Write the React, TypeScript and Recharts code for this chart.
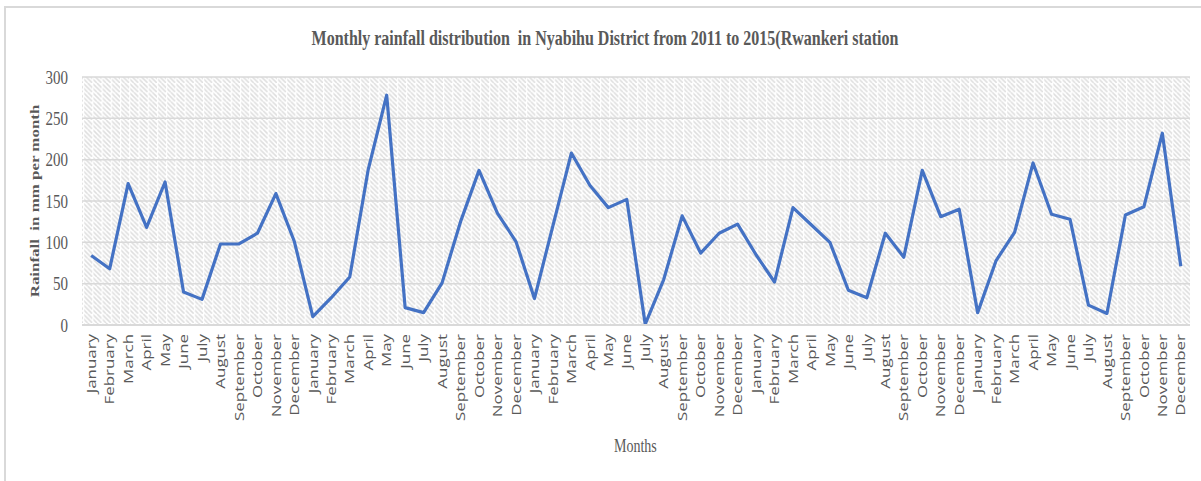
import { LineChart, Line, XAxis, YAxis, CartesianGrid } from 'recharts';

const MONTHS = [
  'January', 'February', 'March', 'April', 'May', 'June',
  'July', 'August', 'September', 'October', 'November', 'December',
];

// monthly rainfall (mm), Rwankeri station
const RAIN_2011 = [84, 68, 171, 118, 173, 40, 31, 98, 98, 111, 159, 101];
const RAIN_2012 = [10, 33, 58, 188, 278, 21, 15, 51, 125, 187, 135, 101];
const RAIN_2013 = [32, 120, 208, 169, 142, 152, 1, 55, 132, 87, 111, 122];
const RAIN_2014 = [85, 52, 142, 121, 100, 42, 33, 111, 82, 187, 131, 140];
const RAIN_2015 = [15, 78, 112, 196, 134, 128, 24, 14, 133, 143, 232, 71];

const Y_TICKS = [0, 50, 100, 150, 200, 250, 300];

const YEARS = [RAIN_2011, RAIN_2012, RAIN_2013, RAIN_2014, RAIN_2015];

const data = YEARS.flatMap((year, y) =>
  year.map((rain, m) => ({ idx: y * 12 + m, month: MONTHS[m], rain }))
);

const GREY = '#595959';
const STRETCH = 1.3;

function MonthTick({ x, y, payload }: { x?: number; y?: number; payload?: { value: number } }) {
  const label = MONTHS[(payload?.value ?? 0) % 12];
  return (
    <text
      transform={`translate(${x},${y}) scale(1,${STRETCH}) rotate(-90)`}
      textAnchor="end"
      dy="0.36em"
      fill={GREY}
      style={{ fontFamily: "'Open Sans', sans-serif", fontSize: 13 }}
    >
      {label}
    </text>
  );
}

function RainTick({ x, y, payload }: { x?: number; y?: number; payload?: { value: number } }) {
  return (
    <text
      transform={`translate(${x},${y}) scale(1,${STRETCH})`}
      textAnchor="end"
      dy="0.35em"
      fill={GREY}
      style={{ fontFamily: "'Liberation Serif', serif", fontSize: 15 }}
    >
      {payload?.value}
    </text>
  );
}

export default function App() {
  return (
    <div style={{ position: 'absolute', left: 0, top: 0, width: 1201, height: 481, background: '#fff', overflow: 'hidden' }}>
      <div
        style={{
          position: 'absolute', left: 4, top: 6, width: 1240, height: 520,
          borderLeft: '2px solid #d9d9d9', borderTop: '2px solid #d9d9d9',
        }}
      />
      <LineChart
        width={1201}
        height={481}
        data={data}
        margin={{ top: 77, right: 11, bottom: 0, left: 0 }}
        style={{ position: 'absolute', left: 0, top: 0 }}
      >
        <defs>
          <pattern id="hatch" patternUnits="userSpaceOnUse" width={9.23} height={9.23}>
            <rect width={9.23} height={9.23} fill="#ffffff" />
            <path
              d="M-9.23,0 L0,9.23 M-4.615,0 L4.615,9.23 M0,0 L9.23,9.23 M4.615,0 L13.845,9.23"
              stroke="#dedede"
              strokeWidth={1.5}
            />
            <line x1={0.6} y1={0} x2={0.6} y2={9.23} stroke="#ffffff" strokeWidth={1.2} />
          </pattern>
        </defs>
        <CartesianGrid
          vertical={false}
          fill="url(#hatch)"
          stroke="#d9d9d9"
          strokeWidth={1.5}
          fillOpacity={1}
        />
        <XAxis
          dataKey="idx"
          type="category"
          interval={0}
          height={156}
          padding={{ left: 9.2, right: 9.2 }}
          tickLine={false}
          tickSize={0}
          tickMargin={9}
          axisLine={{ stroke: '#d9d9d9', strokeWidth: 2 }}
          tick={<MonthTick />}
        />
        <YAxis
          width={82}
          domain={[0, 300]}
          ticks={Y_TICKS}
          interval={0}
          axisLine={false}
          tickLine={false}
          tickSize={0}
          tickMargin={14}
          tick={<RainTick />}
        />
        <Line
          type="linear"
          dataKey="rain"
          stroke="#4472C4"
          strokeWidth={3.2}
          strokeLinejoin="round"
          dot={false}
          activeDot={false}
          isAnimationActive={false}
        />
      </LineChart>
      <div
        style={{
          position: 'absolute', left: 0, width: 1201, top: 28, textAlign: 'center', paddingLeft: 9,
          boxSizing: 'border-box',
          fontFamily: "'Liberation Serif', serif", fontWeight: 'bold', fontSize: 16, color: GREY,
          whiteSpace: 'pre', transform: `scaleY(${STRETCH})`, lineHeight: '20px',
        }}
      >
        {'Monthly rainfall distribution  in Nyabihu District from 2011 to 2015(Rwankeri station'}
      </div>
      <div
        style={{
          position: 'absolute', left: 614, top: 438, fontFamily: "'Liberation Serif', serif",
          fontSize: 14, color: GREY, transform: `scaleY(${STRETCH})`, lineHeight: '18px',
        }}
      >
        Months
      </div>
      <div
        style={{
          position: 'absolute', left: 35, top: 201, width: 0, height: 0,
        }}
      >
        <div
          style={{
            position: 'absolute', left: 0, top: 0, transform: `translate(-50%, -50%) rotate(-90deg) scaleX(${STRETCH})`,
            fontFamily: "'Liberation Serif', serif", fontWeight: 'bold', fontSize: 13, color: GREY,
            whiteSpace: 'pre', lineHeight: '16px',
          }}
        >
          {'Rainfall  in mm per month'}
        </div>
      </div>
    </div>
  );
}
